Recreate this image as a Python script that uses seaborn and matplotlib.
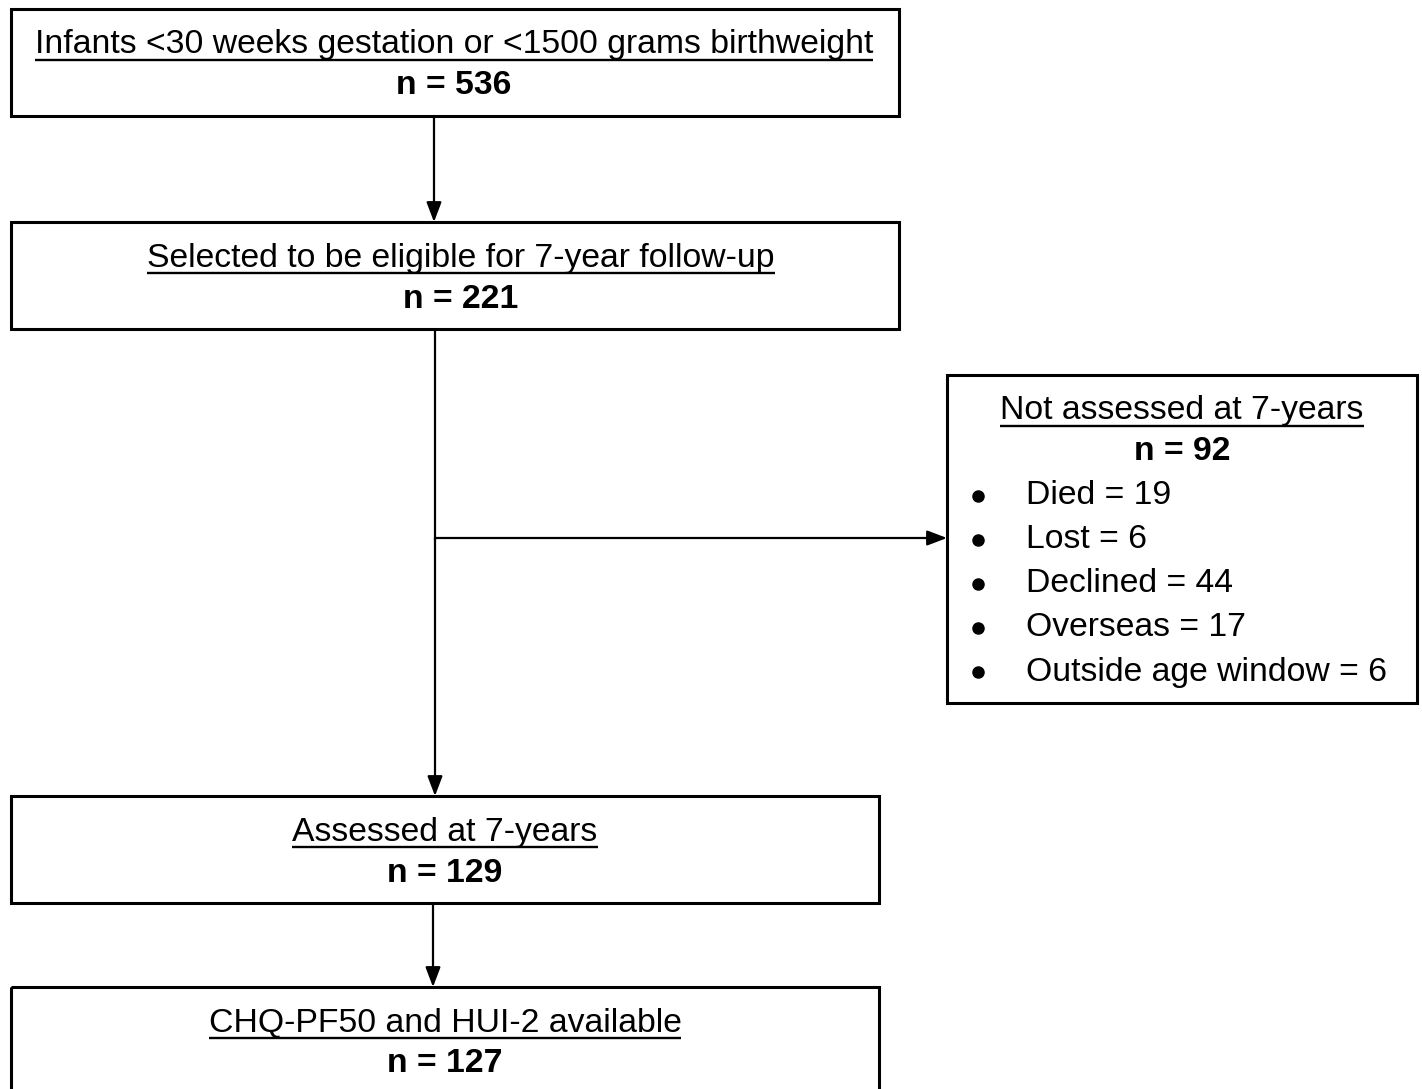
import matplotlib
matplotlib.use("Agg")
import matplotlib.pyplot as plt
import seaborn as sns
from matplotlib.patches import Rectangle

# flow data
stages = ["Infants <30 weeks gestation or <1500 grams birthweight",
          "Selected to be eligible for 7-year follow-up",
          "Assessed at 7-years",
          "CHQ-PF50 and HUI-2 available"]
stage_n = [536, 221, 129, 127]
excl_title = "Not assessed at 7-years"
excl_n = 92
reasons = ["Died", "Lost", "Declined", "Overseas", "Outside age window"]
reason_n = [19, 6, 44, 17, 6]

sns.set_theme(style="white")
plt.rcParams['font.family'] = ['Liberation Sans', 'DejaVu Sans']
plt.rcParams['text.color'] = 'black'

W, H = 1422, 1089
fig = plt.figure(figsize=(W / 100, H / 100), dpi=100)
ax = fig.add_axes([0, 0, 1, 1])
ax.set_xlim(0, W)
ax.set_ylim(H, 0)
ax.axis("off")

FS = 24.3
BOX_LW = 2.2
LINE_LW = 1.6

# box layout (left, top, right, bottom) in pixels, plus text centre x
boxes = [(11, 9, 899, 116), (11, 222, 899, 329),
         (11, 796, 879, 903), (11, 987, 879, 1100)]
text_cx = [454, 461, 445, 445]


def underline(t):
    fig.canvas.draw()
    bb = t.get_window_extent().transformed(ax.transData.inverted())
    y = max(bb.y0, bb.y1) - 1
    ax.plot([bb.x0, bb.x1], [y, y], color="black", lw=1.7,
            solid_capstyle="butt")


def arrow(x0, y0, x1, y1):
    ax.annotate("", xy=(x1, y1), xytext=(x0, y0),
                arrowprops=dict(arrowstyle="-|>,head_length=1.0,head_width=0.38",
                                color="black", lw=LINE_LW, shrinkA=0, shrinkB=0))


for (l, t, r, b), cx, label, n in zip(boxes, text_cx, stages, stage_n):
    ax.add_patch(Rectangle((l, t), r - l, b - t, fill=False,
                           edgecolor="black", lw=BOX_LW))
    txt = ax.text(cx, t + 36, label, ha="center", va="center", fontsize=FS)
    underline(txt)
    ax.text(cx, t + 77, f"n = {n}", ha="center", va="center",
            fontsize=FS, fontweight="bold")

# exclusion box
el, et, er, eb = 947, 375, 1417, 703
ax.add_patch(Rectangle((el, et), er - el, eb - et, fill=False,
                       edgecolor="black", lw=BOX_LW))
ecx = 1182
txt = ax.text(ecx, et + 36, excl_title, ha="center", va="center", fontsize=FS)
underline(txt)
ax.text(ecx, et + 77, f"n = {excl_n}", ha="center", va="center",
        fontsize=FS, fontweight="bold")
for i, (lab, n) in enumerate(zip(reasons, reason_n)):
    y = et + 121 + i * 44
    ax.plot(978, y, marker="o", ms=8, color="black")
    ax.text(1026, y, f"{lab} = {n}", ha="left", va="center", fontsize=FS)

# connectors
arrow(434, 116, 434, 222)
ax.plot([435, 435], [329, 540], color="black", lw=LINE_LW)
arrow(435, 538, 435, 796)
arrow(435, 538, 947, 538)
arrow(433, 903, 433, 987)

fig.savefig("out.png", dpi=100, facecolor="white")
